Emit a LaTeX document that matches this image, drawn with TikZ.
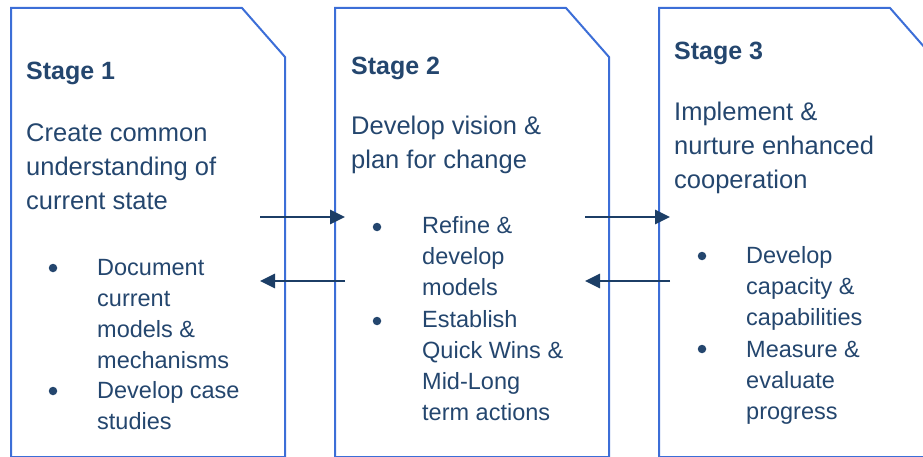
\documentclass[tikz,border=0pt]{standalone}
\usepackage{fontspec}
\setmainfont{Liberation Sans}
\usetikzlibrary{arrows.meta}
\definecolor{boxblue}{RGB}{60,110,215}
\definecolor{inkblue}{RGB}{36,70,110}
\definecolor{arrowblue}{RGB}{28,62,102}
\begin{document}
\begin{tikzpicture}[x=1pt,y=-1pt,
  stagebox/.style={draw=boxblue, line width=2pt, line join=miter},
  heading/.style={anchor=base west, inner sep=0pt, text=inkblue,
    font=\fontsize{25}{34}\selectfont\bfseries},
  % multi-line blocks are placed by the baseline of their last line
  summary/.style={anchor=base west, inner sep=0pt, text=inkblue, align=left,
    font=\fontsize{25.5}{34}\selectfont},
  items/.style={anchor=base west, inner sep=0pt, text=inkblue, align=left,
    font=\fontsize{23.5}{31}\selectfont},
  dot/.style={circle, fill=inkblue, inner sep=0pt, minimum size=8.5pt},
  flow/.style={draw=arrowblue, line width=2.8pt, -{Triangle[length=15pt,width=14pt]}}
]
\useasboundingbox (0,0) rectangle (923,457);

% stage panels with a clipped top-right corner
\draw[stagebox] (11,8) -- (242,8) -- (285,57) -- (285,457) -- (11,457) -- cycle;
\draw[stagebox] (335,8) -- (566,8) -- (609,57) -- (609,457) -- (335,457) -- cycle;
\draw[stagebox] (659,8) -- (890,8) -- (933,57) -- (933,457) -- (659,457) -- cycle;

% Stage 1
\node[heading] (s1) at (26,80) {Stage 1};
\node[summary] (d1) at (26,210) {Create common\\understanding of\\current state};
\node[dot] (b11) at (53,268) {};
\node[items] (t11) at (97,368) {Document\\current\\models \&\\mechanisms};
\node[dot] (b12) at (53,391) {};
\node[items] (t12) at (97,429) {Develop case\\studies};

% Stage 2
\node[heading] (s2) at (351,75) {Stage 2};
\node[summary] (d2) at (351,169) {Develop vision \&\\plan for change};
\node[dot] (b21) at (377,227) {};
\node[items] (t21) at (422,295) {Refine \&\\develop\\models};
\node[dot] (b22) at (377,321) {};
\node[items] (t22) at (422,420) {Establish\\Quick Wins \&\\Mid-Long\\term actions};

% Stage 3
\node[heading] (s3) at (674,60) {Stage 3};
\node[summary] (d3) at (674,189) {Implement \&\\nurture enhanced\\cooperation};
\node[dot] (b31) at (702,256) {};
\node[items] (t31) at (746,325) {Develop\\capacity \&\\capabilities};
\node[dot] (b32) at (702,349) {};
\node[items] (t32) at (746,419) {Measure \&\\evaluate\\progress};

% flow between stages
\coordinate (f12s) at (260,217);
\coordinate (f12e) at (345,217);
\coordinate (f21s) at (345,281);
\coordinate (f21e) at (260,281);
\coordinate (f23s) at (585,217);
\coordinate (f23e) at (670,217);
\coordinate (f32s) at (670,281);
\coordinate (f32e) at (585,281);
\draw[flow] (f12s) -- (f12e);
\draw[flow] (f21s) -- (f21e);
\draw[flow] (f23s) -- (f23e);
\draw[flow] (f32s) -- (f32e);
\end{tikzpicture}
\end{document}
